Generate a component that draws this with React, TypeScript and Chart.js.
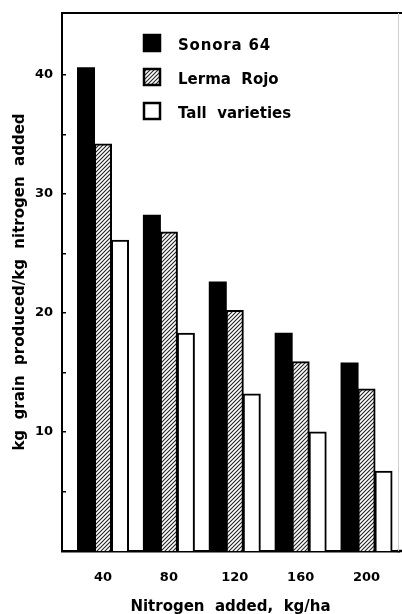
import React, { useEffect, useRef } from 'react';
import { Chart, registerables } from 'chart.js';

Chart.register(...registerables);

// ---- data ----
const nitrogenRates = [40, 80, 120, 160, 200];
const sonora64 = [40.6, 28.2, 22.6, 18.3, 15.8];
const lermaRojo = [34.2, 26.8, 20.2, 15.9, 13.6];
const tallVarieties = [26.1, 18.3, 13.2, 10.0, 6.7];
const seriesNames = ['Sonora 64', 'Lerma  Rojo', 'Tall  varieties'];
const yTickValues = [5, 10, 15, 20, 25, 30, 35, 40];
const yLabelledTicks = [10, 20, 30, 40];
const xTitle = 'Nitrogen  added,  kg/ha';
const yTitle = 'kg  grain  produced/kg  nitrogen  added';

const FONT = '"DejaVu Sans", sans-serif';

function makeHatch(): CanvasPattern | string {
  const c = document.createElement('canvas');
  const n = 4;
  c.width = n;
  c.height = n;
  const g = c.getContext('2d');
  if (!g) return '#888';
  g.fillStyle = '#ffffff';
  g.fillRect(0, 0, n, n);
  g.strokeStyle = '#222';
  g.lineWidth = 1.1;
  g.beginPath();
  g.moveTo(-1, n + 1);
  g.lineTo(n + 1, -1);
  g.moveTo(-1, 1);
  g.lineTo(1, -1);
  g.moveTo(n - 1, n + 1);
  g.lineTo(n + 1, n - 1);
  g.stroke();
  const p = g.createPattern(c, 'repeat');
  return p || '#888';
}

const framePlugin = {
  id: 'frame',
  afterDraw(chart: any) {
    const { ctx, chartArea } = chart;
    const W = chart.width;
    ctx.save();
    ctx.strokeStyle = '#000';
    ctx.lineWidth = 2;
    ctx.beginPath();
    ctx.moveTo(chartArea.left - 1, chartArea.top);
    ctx.lineTo(W, chartArea.top);
    ctx.stroke();
    ctx.lineWidth = 2.5;
    ctx.beginPath();
    ctx.moveTo(chartArea.right - 2, chartArea.bottom);
    ctx.lineTo(W, chartArea.bottom);
    ctx.stroke();
    ctx.strokeStyle = '#cfcfcf';
    ctx.lineWidth = 1;
    ctx.beginPath();
    ctx.moveTo(chartArea.right - 0.5, chartArea.top);
    ctx.lineTo(chartArea.right - 0.5, chartArea.bottom);
    ctx.stroke();
    ctx.restore();
  },
};

const legendPlugin = {
  id: 'boxLegend',
  afterDraw(chart: any) {
    const ctx = chart.ctx;
    ctx.save();
    chart.data.datasets.forEach((ds: any, i: number) => {
      const cy = 43 + i * 34;
      const x = 144;
      const s = 16;
      ctx.fillStyle = ds.backgroundColor;
      ctx.fillRect(x, cy - s / 2, s, s);
      ctx.lineWidth = 2.5;
      ctx.strokeStyle = '#000';
      ctx.strokeRect(x, cy - s / 2, s, s);
      ctx.fillStyle = '#000';
      ctx.font = `bold 15px ${FONT}`;
      ctx.textBaseline = 'middle';
      ctx.textAlign = 'left';
      try {
        (ctx as any).letterSpacing = i === 0 ? '0.8px' : '0px';
      } catch (e) {
        /* ignore */
      }
      ctx.fillText(ds.label, 178, cy + 3);
    });
    ctx.restore();
  },
};

export default function App() {
  const ref = useRef<HTMLCanvasElement | null>(null);

  useEffect(() => {
    if (!ref.current) return;
    const hatch = makeHatch();
    const toXY = (vals: number[]) => vals.map((v, i) => ({ x: nitrogenRates[i], y: v }));
    const chart = new Chart(ref.current, {
      type: 'bar',
      data: {
        datasets: [
          {
            label: seriesNames[0],
            data: toXY(sonora64),
            backgroundColor: '#000',
            borderColor: '#000',
            borderWidth: 0,
            inflateAmount: 0.5,
          },
          {
            label: seriesNames[1],
            data: toXY(lermaRojo),
            backgroundColor: hatch as any,
            borderColor: '#000',
            borderWidth: 2,
            inflateAmount: 0.5,
          },
          {
            label: seriesNames[2],
            data: toXY(tallVarieties),
            backgroundColor: '#fff',
            borderColor: '#000',
            borderWidth: 2,
            inflateAmount: 0.5,
          },
        ],
      },
      options: {
        animation: false,
        responsive: false,
        maintainAspectRatio: false,
        layout: { padding: { top: 13, right: 3, left: 0, bottom: 0 } },
        datasets: {
          bar: { barPercentage: 1, categoryPercentage: 0.774 },
        },
        plugins: {
          legend: { display: false },
          tooltip: { enabled: false },
        },
        scales: {
          x: {
            type: 'linear',
            min: 15.1,
            max: 219.7,
            offset: false,
            afterBuildTicks: (scale: any) => {
              scale.ticks = nitrogenRates.map((v) => ({ value: v }));
            },
            afterFit: (scale: any) => {
              scale.height = 63;
              scale.paddingLeft = 0;
              scale.paddingRight = 0;
            },
            grid: { display: false },
            border: { display: true, color: '#000', width: 2.5 },
            ticks: {
              color: '#000',
              font: { family: FONT, weight: 'bold', size: 13 },
              padding: 11,
              maxRotation: 0,
              autoSkip: false,
              callback: (v: any) => String(v),
            },
            title: {
              display: true,
              text: xTitle,
              color: '#000',
              font: { family: FONT, weight: 'bold', size: 15 },
              padding: { top: 0, bottom: -2 },
            },
          },
          y: {
            type: 'linear',
            min: 0,
            max: 45.2,
            afterBuildTicks: (scale: any) => {
              scale.ticks = yTickValues.map((v) => ({ value: v }));
            },
            afterFit: (scale: any) => {
              scale.width = 62;
              scale.paddingTop = 0;
              scale.paddingBottom = 0;
            },
            grid: {
              drawOnChartArea: false,
              drawTicks: true,
              tickLength: -4,
              color: '#000',
              lineWidth: 1.5,
            },
            border: { display: true, color: '#000', width: 2 },
            ticks: {
              color: '#000',
              font: { family: FONT, weight: 'bold', size: 13 },
              padding: 13,
              autoSkip: false,
              callback: (v: any) => (yLabelledTicks.includes(Number(v)) ? String(v) : ''),
            },
            title: {
              display: true,
              text: yTitle,
              color: '#000',
              font: { family: FONT, weight: 'bold', size: 15 },
              padding: { top: 11, bottom: 0 },
            },
          },
        },
      },
      plugins: [framePlugin, legendPlugin],
    } as any);
    return () => chart.destroy();
  }, []);

  return (
    <div style={{ position: 'absolute', left: 0, top: 0, width: 402, height: 614, background: '#fff' }}>
      <canvas ref={ref} width={402} height={614} style={{ display: 'block', width: 402, height: 614 }} />
    </div>
  );
}
